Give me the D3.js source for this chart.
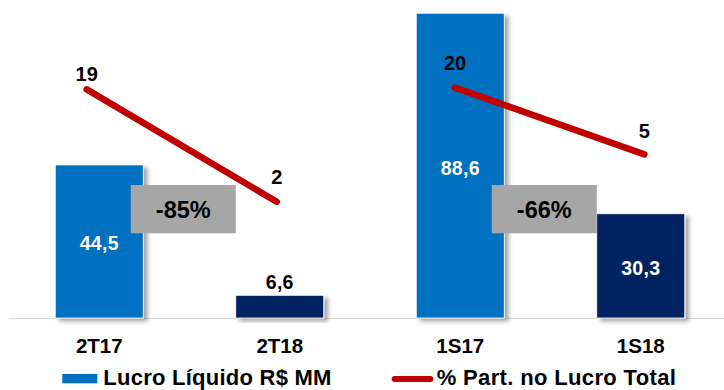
<!DOCTYPE html>
<html>
<head>
<meta charset="utf-8">
<script src="https://cdn.jsdelivr.net/npm/d3@7"></script>
<style>
  html, body { margin: 0; padding: 0; background: #fff; }
  svg { display: block; font-family: "Liberation Sans", Arial, Helvetica, sans-serif; }
</style>
</head>
<body>
<svg id="chart" width="724" height="390"></svg>
<script>
// Lucro líquido (R$ MM) and share of total profit, quarter and semester comparison
const categories = ["2T17", "2T18", "1S17", "1S18"];
const lucroLiquido = [44.5, 6.6, 88.6, 30.3];
const partLucro = [19, 2, 20, 5];
const periodPairs = [["2T17", "2T18"], ["1S17", "1S18"]];
const variacao = ["-85%", "-66%"];
const legendLabels = ["Lucro Líquido R$ MM", "% Part. no Lucro Total"];

const fmt = v => d3.format(".1f")(v).replace(".", ",");

const W = 724, H = 390;
const svg = d3.select("#chart");

const colors = { prev: "#0070C0", curr: "#002060", line: "#C00000", box: "#A6A6A6", axis: "#D9D9D9" };

// drop shadow for the bars
const defs = svg.append("defs");
const f = defs.append("filter").attr("id", "barShadow")
  .attr("x", "-20%").attr("y", "-20%").attr("width", "140%").attr("height", "140%");
f.append("feDropShadow").attr("dx", 4).attr("dy", 3).attr("stdDeviation", 2.2)
  .attr("flood-color", "#000").attr("flood-opacity", 0.35);

// scales
const x = d3.scaleBand().domain(categories).range([9, 731])
  .paddingInner(0.5125).paddingOuter(0.25625);
const yBar = d3.scaleLinear().domain([0, 90]).range([318, 8.4]);

// each period pair carries its own share axis
const lineX = [
  d3.scalePoint().domain(periodPairs[0]).range([86.7, 276.7]),
  d3.scalePoint().domain(periodPairs[1]).range([455, 644.3])
];
const lineY = [
  d3.scaleLinear().domain([0, 30]).range([215, 16.7]),
  d3.scaleLinear().domain([0, 30]).range([176.5, 43.3])
];

const rows = categories.map((c, i) => ({ cat: c, lucro: lucroLiquido[i], part: partLucro[i], i }));

// axis baseline
svg.append("line")
  .attr("x1", 9).attr("x2", W).attr("y1", 318.5).attr("y2", 318.5)
  .attr("stroke", colors.axis).attr("stroke-width", 1.2);

// bars
svg.append("g").selectAll("rect").data(rows).join("rect")
  .attr("x", d => x(d.cat))
  .attr("y", d => yBar(d.lucro))
  .attr("width", x.bandwidth())
  .attr("height", d => yBar(0) - yBar(d.lucro))
  .attr("fill", d => d.i % 2 === 0 ? colors.prev : colors.curr)
  .attr("stroke", "#fff").attr("stroke-width", 0.8)
  .attr("filter", "url(#barShadow)");

// bar value labels: inside when the bar is tall, above otherwise
svg.append("g").selectAll("text").data(rows).join("text")
  .attr("x", d => x(d.cat) + x.bandwidth() / 2)
  .attr("y", d => {
    const h = yBar(0) - yBar(d.lucro);
    return h > 50 ? (yBar(d.lucro) + yBar(0)) / 2 + 9 : yBar(d.lucro) - 6;
  })
  .attr("text-anchor", "middle")
  .attr("font-size", 19.5).attr("font-weight", "bold").attr("letter-spacing", 0.3)
  .attr("fill", d => (yBar(0) - yBar(d.lucro)) > 50 ? "#fff" : "#000")
  .text(d => fmt(d.lucro));

// variation boxes between each pair of bars
periodPairs.forEach((pair, k) => {
  const right = x(pair[1]);
  const left = right - 105;
  svg.append("rect")
    .attr("x", left).attr("y", 185).attr("width", 105).attr("height", 48.3)
    .attr("fill", colors.box);
  svg.append("text")
    .attr("x", left + 52.5).attr("y", 218.3)
    .attr("text-anchor", "middle")
    .attr("font-size", 23.5).attr("font-weight", "bold").attr("fill", "#000")
    .text(variacao[k]);
});

// share lines, one segment per pair
const labelDy = [-8.3, -17.7, -17.7, -16];
periodPairs.forEach((pair, k) => {
  const pts = rows.filter(r => pair.includes(r.cat));
  const line = d3.line().x(d => lineX[k](d.cat)).y(d => lineY[k](d.part));
  svg.append("path").datum(pts)
    .attr("d", line)
    .attr("fill", "none").attr("stroke", colors.line)
    .attr("stroke-width", 6.6).attr("stroke-linecap", "round").attr("stroke-linejoin", "round");
  svg.append("g").selectAll("text").data(pts).join("text")
    .attr("x", d => lineX[k](d.cat))
    .attr("y", d => lineY[k](d.part) + labelDy[d.i])
    .attr("text-anchor", "middle")
    .attr("font-size", 20).attr("font-weight", "bold").attr("fill", "#000")
    .text(d => d.part);
});

// category axis labels
const xAxis = d3.axisBottom(x).tickSize(0).tickPadding(0);
const gx = svg.append("g").attr("transform", "translate(0,318)").call(xAxis);
gx.select(".domain").remove();
gx.selectAll("text")
  .attr("dy", null).attr("y", 34.5)
  .attr("font-family", null)
  .attr("font-size", 20.5).attr("font-weight", "bold").attr("fill", "#000");

// legend
const lg = svg.append("g");
lg.append("rect").attr("x", 62.3).attr("y", 374).attr("width", 35).attr("height", 9.3)
  .attr("fill", colors.prev);
lg.append("text").attr("x", 103.3).attr("y", 385)
  .attr("font-size", 22).attr("font-weight", "bold").attr("letter-spacing", 0.25).attr("fill", "#000")
  .text(legendLabels[0]);
lg.append("line").attr("x1", 394.7).attr("x2", 430.3).attr("y1", 379).attr("y2", 379)
  .attr("stroke", colors.line).attr("stroke-width", 6).attr("stroke-linecap", "round");
lg.append("text").attr("x", 436.7).attr("y", 385)
  .attr("font-size", 22).attr("font-weight", "bold").attr("letter-spacing", 0.35).attr("fill", "#000")
  .text(legendLabels[1]);
</script>
</body>
</html>
